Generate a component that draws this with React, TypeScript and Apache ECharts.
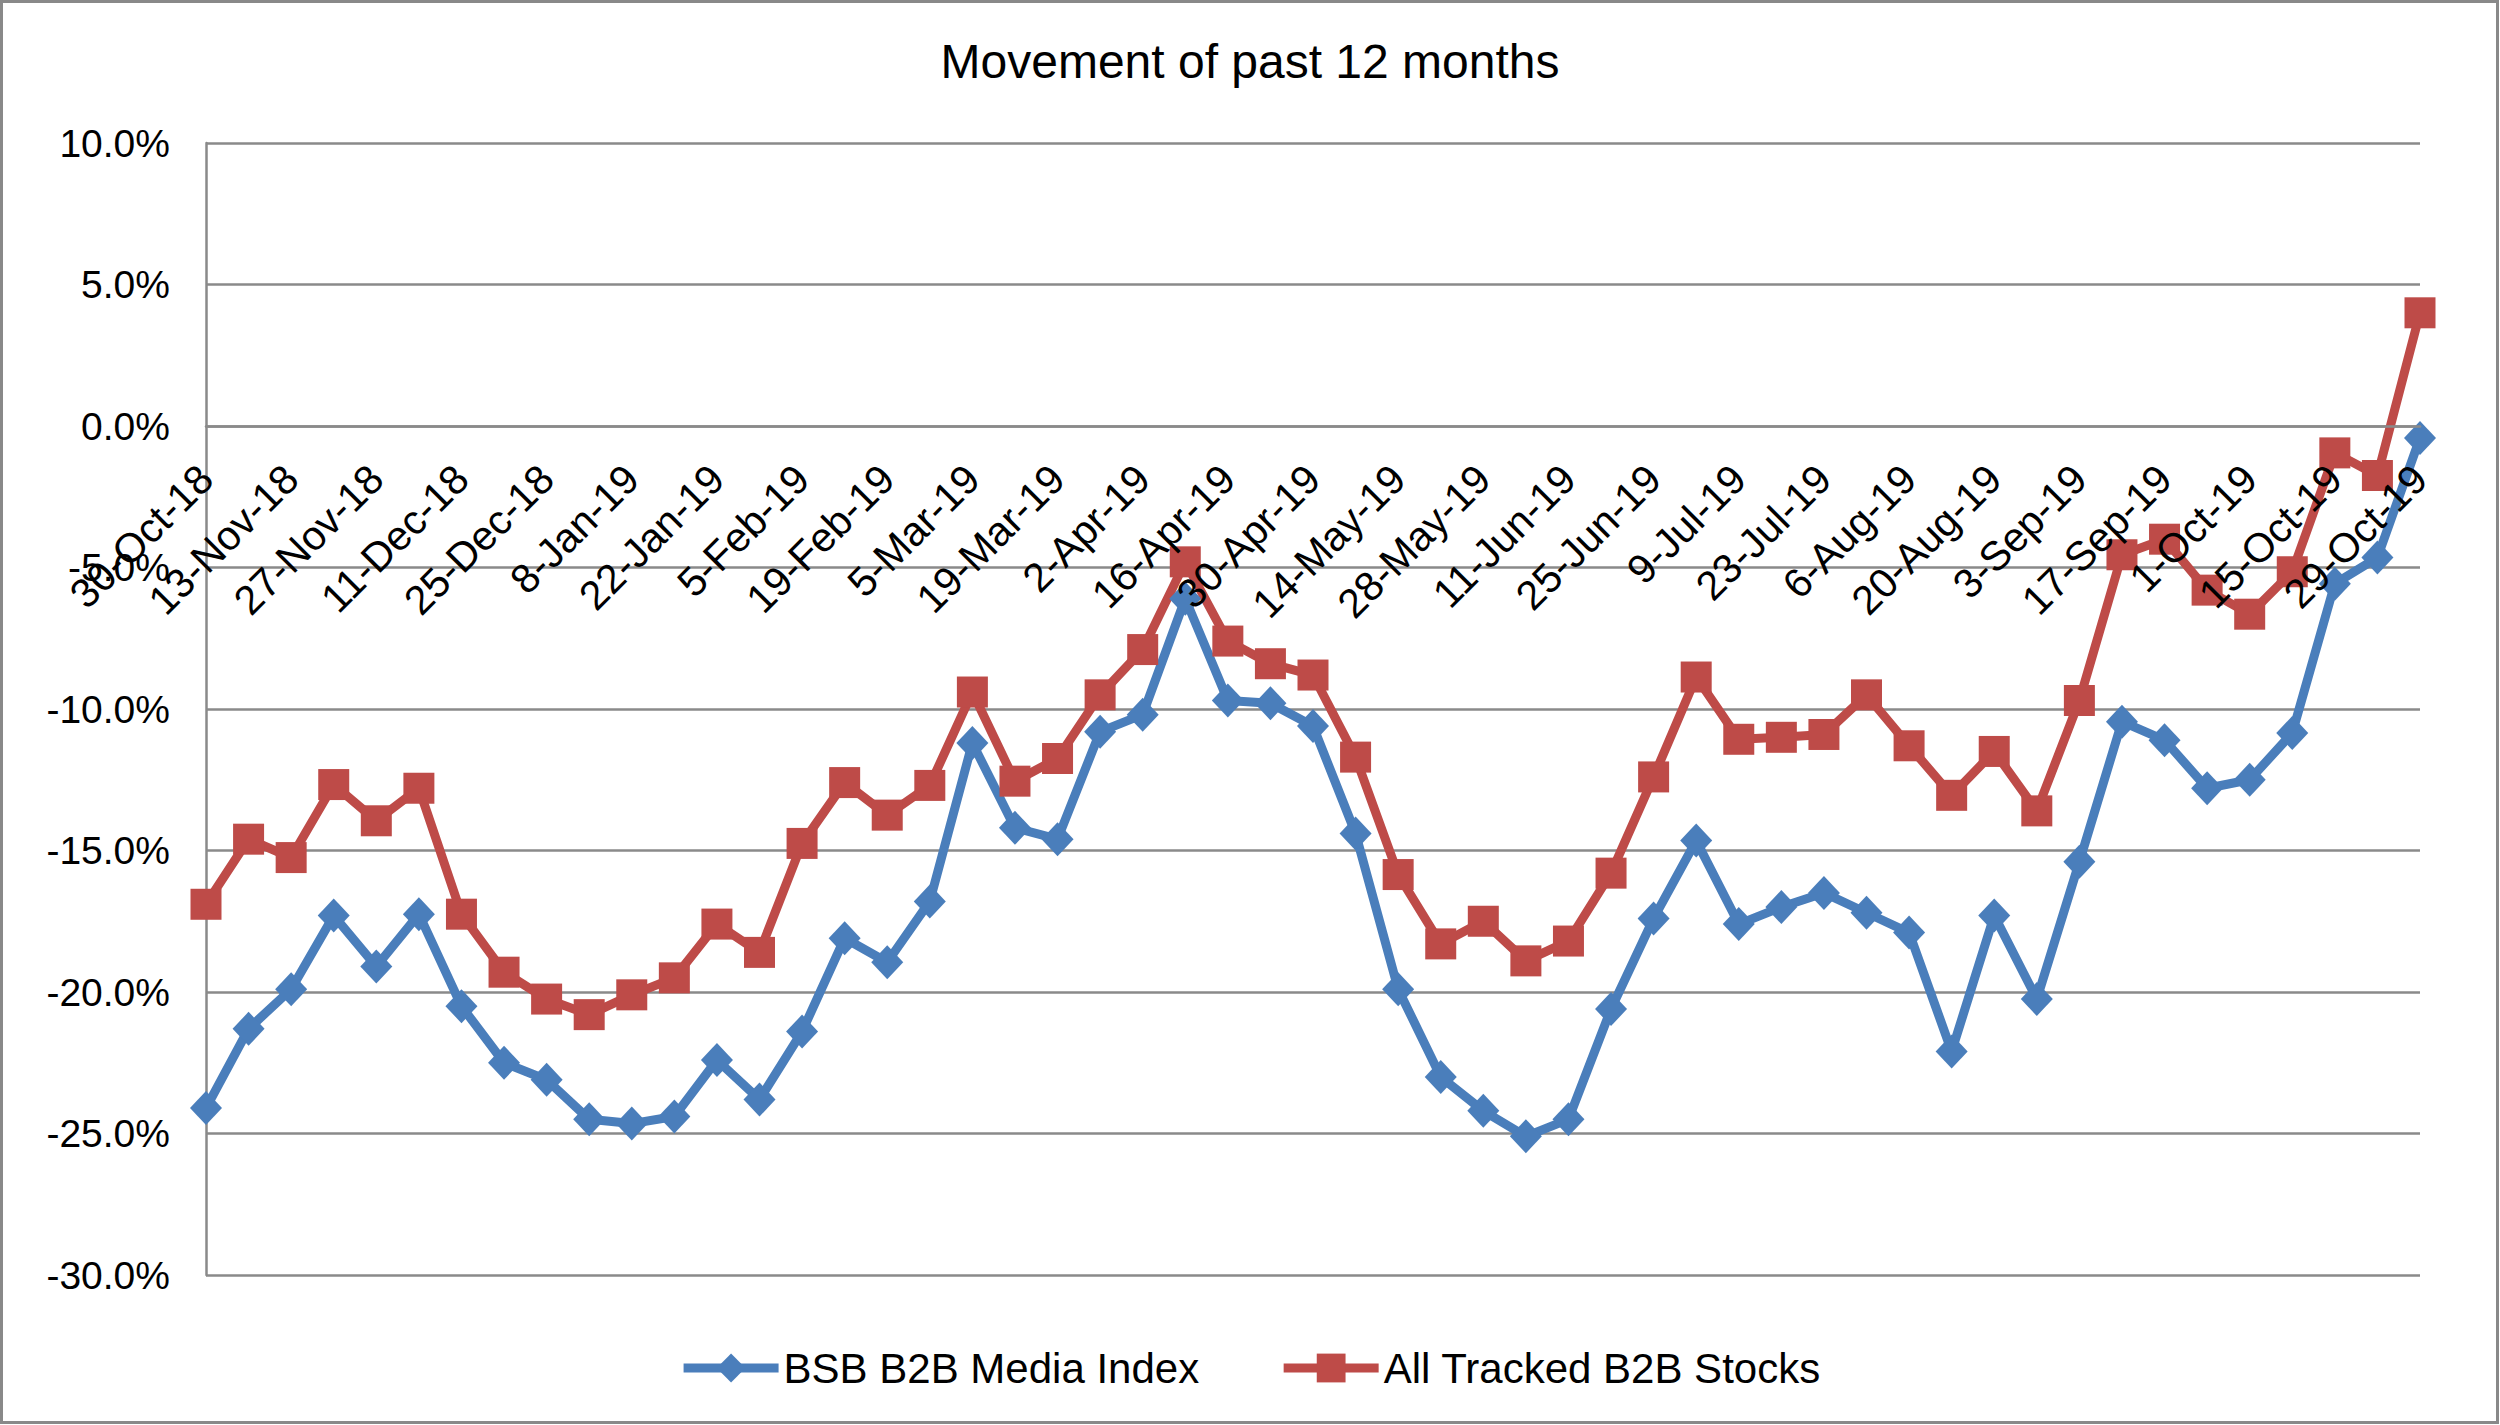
import React, { useEffect, useRef } from "react";
import * as echarts from "echarts";

const titleText = "Movement of past 12 months";

const categories = [
  "30-Oct-18", "6-Nov-18", "13-Nov-18", "20-Nov-18", "27-Nov-18", "4-Dec-18", "11-Dec-18", "18-Dec-18", "25-Dec-18",
  "1-Jan-19", "8-Jan-19", "15-Jan-19", "22-Jan-19", "29-Jan-19", "5-Feb-19", "12-Feb-19", "19-Feb-19", "26-Feb-19",
  "5-Mar-19", "12-Mar-19", "19-Mar-19", "26-Mar-19", "2-Apr-19", "9-Apr-19", "16-Apr-19", "23-Apr-19", "30-Apr-19",
  "7-May-19", "14-May-19", "21-May-19", "28-May-19", "4-Jun-19", "11-Jun-19", "18-Jun-19", "25-Jun-19", "2-Jul-19",
  "9-Jul-19", "16-Jul-19", "23-Jul-19", "30-Jul-19", "6-Aug-19", "13-Aug-19", "20-Aug-19", "27-Aug-19", "3-Sep-19",
  "10-Sep-19", "17-Sep-19", "24-Sep-19", "1-Oct-19", "8-Oct-19", "15-Oct-19", "22-Oct-19", "29-Oct-19",
];

const bsbIndexName = "BSB B2B Media Index";
const bsbIndex = [
  -24.1, -21.3, -19.9, -17.3, -19.1, -17.25, -20.5, -22.5, -23.1, -24.5,
  -24.65, -24.4, -22.4, -23.8, -21.4, -18.1, -18.95, -16.8, -11.2, -14.2,
  -14.6, -10.8, -10.2, -6.1, -9.7, -9.8, -10.6, -14.4, -19.9, -23.0,
  -24.2, -25.1, -24.5, -20.6, -17.4, -14.65, -17.6, -17.0, -16.5, -17.2,
  -17.9, -22.1, -17.3, -20.25, -15.4, -10.45, -11.1, -12.8, -12.5, -10.85,
  -5.57, -4.65, -0.42,
];

const allStocksName = "All Tracked B2B Stocks";
const allStocks = [
  -16.9, -14.6, -15.25, -12.67, -13.95, -12.8, -17.25, -19.3, -20.25, -20.8,
  -20.1, -19.5, -17.6, -18.6, -14.75, -12.6, -13.75, -12.7, -9.4, -12.55,
  -11.75, -9.5, -7.9, -4.8, -7.6, -8.4, -8.8, -11.7, -15.85, -18.3,
  -17.5, -18.9, -18.2, -15.8, -12.4, -8.87, -11.07, -11.0, -10.9, -9.5,
  -11.3, -13.05, -11.5, -13.6, -9.7, -4.55, -4.0, -5.8, -6.65, -5.15,
  -0.95, -1.75, 4.0,
];

const yMin = -30;
const yMax = 10;
const yStep = 5;

const FONT = "'Liberation Sans', Arial, Helvetica, sans-serif";
const GRID_COLOR = "#8a8a8a";
const BLUE = "#4a7ebb";
const RED = "#be4b48";

const GRID_TOP = 143;
const GRID_BOTTOM = 150;
const CHART_H = 1425;

export default function App() {
  const ref = useRef<HTMLDivElement>(null);

  useEffect(() => {
    if (!ref.current) return;
    const chart = echarts.init(ref.current, undefined, { renderer: "svg" });
    const plotH = CHART_H - GRID_TOP - GRID_BOTTOM;
    const zeroY = GRID_TOP + (plotH * (yMax - 0)) / (yMax - yMin);
    const xAxisOffset = zeroY - (CHART_H - GRID_BOTTOM);
    chart.setOption({
      animation: false,
      backgroundColor: "#ffffff",
      textStyle: { fontFamily: FONT, color: "#000" },
      title: {
        text: titleText,
        left: "center",
        top: 37,
        padding: 0,
        textStyle: { fontFamily: FONT, fontSize: 48, fontWeight: "normal", color: "#000" },
      },
      graphic: [
        {
          type: "rect",
          shape: { x: 1.5, y: 1.5, width: 2496, height: 1421 },
          style: { fill: "none", stroke: "#898989", lineWidth: 3 },
          silent: true,
        },
      ],
      legend: {
        left: "center",
        top: 1342,
        itemWidth: 95,
        itemHeight: 36,
        itemGap: 80,
        lineStyle: { width: 9 },
        textStyle: { fontFamily: FONT, fontSize: 42, color: "#000" },
        data: [bsbIndexName, allStocksName],
      },
      grid: { left: 206, right: 80, top: GRID_TOP, bottom: GRID_BOTTOM, containLabel: false },
      xAxis: {
        type: "category",
        data: categories,
        boundaryGap: false,
        z: 10,
        offset: xAxisOffset,
        axisLine: { show: true, onZero: false, lineStyle: { color: GRID_COLOR, width: 2.5 } },
        axisTick: { show: false },
        axisLabel: {
          interval: 1,
          rotate: 45,
          margin: 46,
          fontFamily: FONT,
          fontSize: 41,
          color: "#000",
        },
        splitLine: { show: false },
      },
      yAxis: {
        type: "value",
        min: yMin,
        max: yMax,
        interval: yStep,
        axisLine: { show: true, lineStyle: { color: GRID_COLOR, width: 2.5 } },
        axisTick: { show: false },
        axisLabel: {
          margin: 36,
          fontFamily: FONT,
          fontSize: 39,
          color: "#000",
          formatter: (v: number) => v.toFixed(1) + "%",
        },
        splitLine: { show: true, lineStyle: { color: GRID_COLOR, width: 2.5 } },
      },
      series: [
        {
          name: bsbIndexName,
          type: "line",
          data: bsbIndex,
          symbol: "diamond",
          symbolSize: [32, 34],
          showAllSymbol: true,
          lineStyle: { color: BLUE, width: 9 },
          itemStyle: { color: BLUE },
        },
        {
          name: allStocksName,
          type: "line",
          data: allStocks,
          symbol: "rect",
          symbolSize: 31,
          showAllSymbol: true,
          lineStyle: { color: RED, width: 9 },
          itemStyle: { color: RED },
        },
      ],
    });
    return () => chart.dispose();
  }, []);

  return (
    <div
      ref={ref}
      style={{ position: "fixed", left: 0, top: 0, width: 2500, height: 1425, background: "#fff" }}
    />
  );
}
